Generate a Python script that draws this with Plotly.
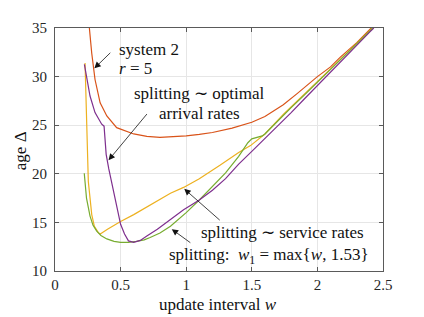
import plotly.graph_objects as go

# ---- data ----
x_sys2 = [0.262, 0.28, 0.305, 0.344, 0.395, 0.47, 0.6, 0.7, 0.8, 0.9, 1.0, 1.1, 1.2, 1.35, 1.5, 1.6, 1.74,
          1.85, 2.0, 2.1, 2.175, 2.3, 2.41]
y_sys2 = [35.0, 32.4, 29.7, 27.3, 25.95, 24.75, 24.1, 23.85, 23.75, 23.8, 23.9, 24.05, 24.25, 24.7, 25.3,
          25.9, 27.1, 28.3, 30.0, 31.0, 32.0, 33.5, 35.0]

x_opt = [0.224, 0.242, 0.267, 0.305, 0.356, 0.374, 0.39, 0.41, 0.445, 0.47, 0.5, 0.53, 0.56, 0.6, 0.65,
         0.7, 0.78, 0.88, 0.98, 1.1, 1.2, 1.3, 1.4, 1.5, 1.6, 1.7, 1.8, 1.9, 2.0, 2.1, 2.2, 2.3, 2.4, 2.43]
y_opt = [31.25, 30.0, 28.0, 26.3, 25.1, 24.9, 22.0, 20.5, 18.2, 16.6, 14.8, 13.8, 13.1, 12.95, 13.15,
         13.6, 14.3, 15.3, 16.3, 17.3, 18.3, 19.5, 21.0, 22.3, 23.6, 25.0, 26.3, 27.7, 29.1, 30.5, 31.9,
         33.3, 34.6, 35.0]

x_srv = [0.229, 0.242, 0.254, 0.28, 0.30, 0.33, 0.345, 0.4, 0.5, 0.6, 0.75, 0.88, 0.98, 1.1, 1.26, 1.4,
         1.49, 1.6, 1.74, 1.8, 1.9, 2.0, 2.1, 2.2, 2.3, 2.4, 2.42]
y_srv = [31.4, 23.2, 19.2, 15.8, 14.6, 13.95, 13.8, 14.3, 15.1, 15.8, 17.0, 18.0, 18.6, 19.5, 20.9, 22.2,
         22.9, 24.1, 26.1, 26.9, 28.2, 29.5, 30.8, 32.1, 33.4, 34.7, 35.0]

x_max = [0.223, 0.24, 0.267, 0.29, 0.318, 0.35, 0.395, 0.45, 0.5, 0.56, 0.62, 0.68, 0.725, 0.8, 0.88,
         0.95, 1.0, 1.1, 1.2, 1.3, 1.4, 1.47, 1.5, 1.58, 1.6, 1.7, 1.8, 1.9, 2.0, 2.1, 2.2, 2.3, 2.4, 2.42]
y_max = [20.05, 17.5, 15.65, 14.7, 14.1, 13.65, 13.3, 13.05, 12.95, 12.95, 13.05, 13.2, 13.45, 13.9, 14.6,
         15.4, 16.0, 17.3, 18.7, 20.1, 21.8, 23.2, 23.6, 23.9, 24.1, 25.5, 26.8, 28.1, 29.4, 30.7, 32.0,
         33.4, 34.7, 35.0]

x_ticks = [0, 0.5, 1, 1.5, 2, 2.5]
x_ticklabels = ["0", "0.5", "1", "1.5", "2", "2.5"]
y_ticks = [10, 15, 20, 25, 30, 35]
y_ticklabels = ["10", "15", "20", "25", "30", "35"]

FONT = "Liberation Serif"
AXC = "#5a5a5a"

fig = go.Figure()
for xs, ys, col in [(x_sys2, y_sys2, "#D95319"),
                    (x_srv, y_srv, "#EDB120"),
                    (x_max, y_max, "#77AC30"),
                    (x_opt, y_opt, "#7E2F8E")]:
    fig.add_trace(go.Scatter(x=xs, y=ys, mode="lines", line=dict(color=col, width=1.2),
                             showlegend=False, hoverinfo="skip"))

axis_common = dict(showline=True, linecolor=AXC, linewidth=1, mirror="ticks", ticks="inside",
                   ticklen=4, tickcolor=AXC, showgrid=True, gridcolor="#e6e6e6", gridwidth=1,
                   zeroline=False, tickfont=dict(family=FONT, size=15, color="#262626"))
fig.update_xaxes(range=[0, 2.5], tickvals=x_ticks, ticktext=x_ticklabels, **axis_common)
fig.update_yaxes(range=[10, 35], tickvals=y_ticks, ticktext=y_ticklabels, ticklabelstandoff=4, **axis_common)

ann = []
def arrow(xh, yh, xt, yt):
    ann.append(dict(x=xh, y=yh, ax=xt, ay=yt, xref="x", yref="y", axref="x", ayref="y", text="",
                    showarrow=True, arrowhead=2, arrowsize=1.6, arrowwidth=0.8, arrowcolor="#111"))

def label(x, y, t, anchor="left"):
    ann.append(dict(x=x, y=y, xref="x", yref="y", text=t, showarrow=False, xanchor=anchor,
                    yanchor="middle", font=dict(family=FONT, size=17, color="#111")))

arrow(0.30, 30.85, 0.433, 32.6)
arrow(0.408, 21.4, 0.71, 26.3)
arrow(0.985, 18.45, 1.267, 15.1)
arrow(0.89, 14.3, 1.043, 12.8)

label(0.47, 32.75, "system 2")
label(0.47, 30.8, "<i>r</i> = 5")
label(1.1, 28.3, "splitting ∼ optimal", "center")
label(1.1, 26.25, "arrival rates", "center")
label(1.10, 13.96, "splitting ∼ service rates")
label(0.853, 11.55, "splitting:  <i>w</i><sub>1</sub> = max{<i>w</i>, 1.53}")

ann.append(dict(x=0.497, y=0, xref="paper", yref="paper", yshift=-33, text="update interval <i>w</i>",
                showarrow=False, xanchor="center", yanchor="middle",
                font=dict(family=FONT, size=17, color="#111")))
ann.append(dict(x=0, y=0.493, xref="paper", yref="paper", xshift=-35, text="age Δ", textangle=-90,
                showarrow=False, xanchor="center", yanchor="middle",
                font=dict(family=FONT, size=17, color="#111")))

# the page body has an 8px margin, so the figure is shrunk and shifted accordingly
fig.update_layout(width=416, height=309, margin=dict(l=47, r=41, t=16, b=46),
                  paper_bgcolor="white", plot_bgcolor="white", annotations=ann,
                  font=dict(family=FONT))
fig.write_html("out.html")
